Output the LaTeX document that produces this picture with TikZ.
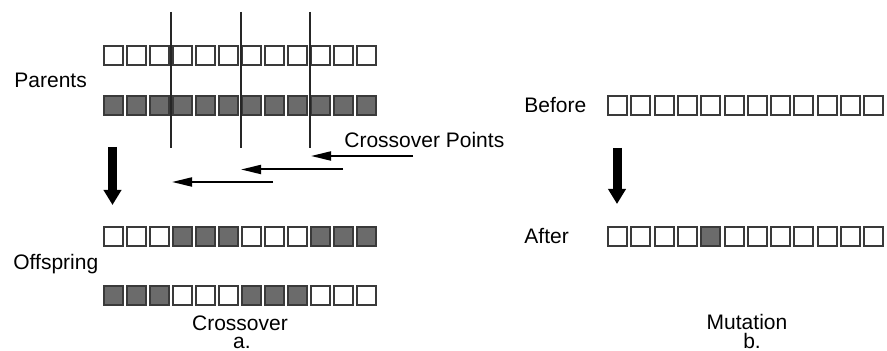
\documentclass[tikz,border=0pt]{standalone}
\usepackage{fontspec}
\setmainfont{Liberation Sans}
\usetikzlibrary{arrows.meta}
\definecolor{cellgray}{HTML}{6B6B6B}
\definecolor{edge}{HTML}{3A3A3A}
\begin{document}
\begin{tikzpicture}[x=0.5pt,y=-0.5pt,
  font=\fontsize{10.5pt}{12.5pt}\selectfont,
  cellw/.style={draw=edge, line width=1pt, fill=white, minimum size=9.5pt, inner sep=0pt, outer sep=0pt},
  cellg/.style={cellw, fill=cellgray},
  cutline/.style={draw=black!85, line width=0.8pt},
  pointer/.style={line width=1pt, -{Triangle[length=10pt,width=4.5pt]}},
  bigarrow/.style={line width=4.5pt, -{Triangle[length=7.5pt,width=8.5pt]}},
  lbl/.style={inner sep=0pt, anchor=base west},
  captext/.style={inner sep=0pt, anchor=base}]
\useasboundingbox (0,0) rectangle (887,351);
\fill[white] (0,0) rectangle (887,351);
% parents
\foreach \i in {0,...,11} {
  \node[cellw] (pa\i) at (113.5+23*\i, 55.5) {};
  \node[cellg] (pb\i) at (113.5+23*\i, 105.5) {};
}
% offspring
\foreach \i/\a/\b in {0/cellw/cellg,1/cellw/cellg,2/cellw/cellg,3/cellg/cellw,4/cellg/cellw,5/cellg/cellw,6/cellw/cellg,7/cellw/cellg,8/cellw/cellg,9/cellg/cellw,10/cellg/cellw,11/cellg/cellw} {
  \node[\a] (oa\i) at (113.5+23*\i, 236.5) {};
  \node[\b] (ob\i) at (113.5+23*\i, 295.5) {};
}
% mutation rows
\foreach \i/\s in {0/cellw,1/cellw,2/cellw,3/cellw,4/cellg,5/cellw,6/cellw,7/cellw,8/cellw,9/cellw,10/cellw,11/cellw} {
  \node[cellw] (be\i) at (617.5+23.3*\i, 106) {};
  \node[\s] (af\i) at (617.5+23.3*\i, 237) {};
}
% crossover lines
\coordinate (v1t) at (171,12);  \coordinate (v1b) at (171,148);
\coordinate (v2t) at (241,12);  \coordinate (v2b) at (241,148);
\coordinate (v3t) at (310,12);  \coordinate (v3b) at (310,148);
\draw[cutline] (v1t) -- (v1b);
\draw[cutline] (v2t) -- (v2b);
\draw[cutline] (v3t) -- (v3b);
% pointers
\coordinate (p1s) at (413,156); \coordinate (p1e) at (311,156);
\coordinate (p2s) at (343,169.5); \coordinate (p2e) at (241,169.5);
\coordinate (p3s) at (273,182); \coordinate (p3e) at (172,182);
\draw[pointer] (p1s) -- (p1e);
\draw[pointer] (p2s) -- (p2e);
\draw[pointer] (p3s) -- (p3e);
% big arrows
\coordinate (la1) at (112.5,147); \coordinate (la2) at (112.5,205);
\coordinate (ra1) at (617,148); \coordinate (ra2) at (617,204);
\draw[bigarrow] (la1) -- (la2);
\draw[bigarrow] (ra1) -- (ra2);
% labels
\node[lbl] (parents) at (14,88) {Parents};
\node[lbl] (offspring) at (13,270) {Offspring};
\node[lbl] (cp) at (344,148) {Crossover Points};
\node[lbl] (before) at (524,113) {Before};
\node[lbl] (after) at (524,244) {After};
\node[captext] (cross) at (240,331) {Crossover};
\node[captext] (aa) at (242,349) {a.};
\node[captext] (mut) at (747,330) {Mutation};
\node[captext] (bb) at (752,349) {b.};
\end{tikzpicture}
\end{document}
